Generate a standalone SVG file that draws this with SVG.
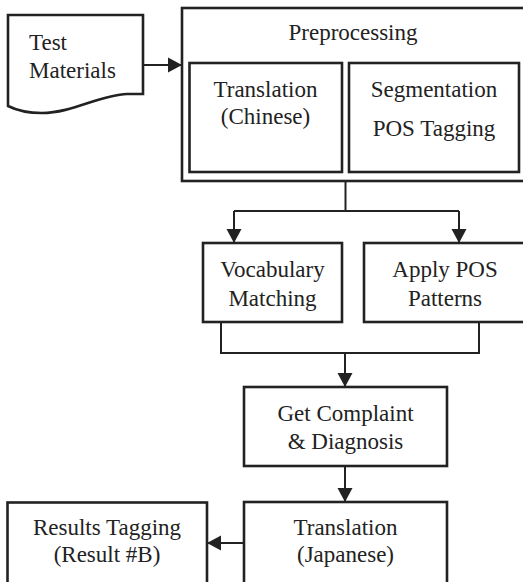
<svg xmlns="http://www.w3.org/2000/svg" width="523" height="582" viewBox="0 0 523 582">
<style>
.box{fill:#fff;stroke:#222;stroke-width:2.6}
.ln{fill:none;stroke:#222;stroke-width:2}
.t{font-family:'Liberation Serif','Times New Roman','DejaVu Serif',serif;font-size:23px;fill:#222;text-anchor:middle}
.s{text-anchor:start}
</style>
<defs>
<marker id="ah" markerUnits="userSpaceOnUse" markerWidth="16" markerHeight="16" viewBox="0 0 16 16" refX="15" refY="8" orient="auto">
<path d="M1,0.5 L15,8 L1,15.5 Z" fill="#222"/>
</marker>
</defs>
<rect width="523" height="582" fill="#fff"/>
<g id="connectors">
<line class="ln" x1="143" y1="65" x2="182" y2="65" marker-end="url(#ah)"/>
<polyline class="ln" points="345.5,181 345.5,211"/>
<polyline class="ln" points="234,211 459,211"/>
<line class="ln" x1="234" y1="211" x2="234" y2="243" marker-end="url(#ah)"/>
<line class="ln" x1="459" y1="211" x2="459" y2="243" marker-end="url(#ah)"/>
<polyline class="ln" points="221,322 221,353 479,353 479,322"/>
<line class="ln" x1="345" y1="353" x2="345" y2="387" marker-end="url(#ah)"/>
<line class="ln" x1="345" y1="466" x2="345" y2="502" marker-end="url(#ah)"/>
<line class="ln" x1="244" y1="543" x2="207" y2="543" marker-end="url(#ah)"/>
</g>
<g id="test-materials">
<path class="box" d="M8,15 H143 V94 H127 C100,95 72,113 42,113 C30,113 16,110 8,106 Z"/>
<text class="t s" x="29" y="50">Test</text>
<text class="t s" x="29" y="78">Materials</text>
</g>
<g id="preprocessing">
<rect class="box" x="182" y="8" width="350" height="173"/>
<text class="t" x="353" y="40">Preprocessing</text>
</g>
<g id="translation-chinese">
<rect class="box" x="189.5" y="63" width="152.5" height="109"/>
<text class="t" x="265.5" y="97">Translation</text>
<text class="t" x="265.5" y="124">(Chinese)</text>
</g>
<g id="segmentation">
<rect class="box" x="349" y="63" width="170" height="109"/>
<text class="t" x="434" y="97">Segmentation</text>
<text class="t" x="434" y="136">POS Tagging</text>
</g>
<g id="vocabulary-matching">
<rect class="box" x="203" y="243" width="139" height="79"/>
<text class="t" x="272.5" y="277">Vocabulary</text>
<text class="t" x="272.5" y="306">Matching</text>
</g>
<g id="apply-pos">
<rect class="box" x="364" y="243" width="170" height="79"/>
<text class="t" x="445" y="277">Apply POS</text>
<text class="t" x="445" y="306">Patterns</text>
</g>
<g id="get-complaint">
<rect class="box" x="244" y="387" width="203" height="79"/>
<text class="t" x="345.5" y="421">Get Complaint</text>
<text class="t" x="345.5" y="449">&amp; Diagnosis</text>
</g>
<g id="translation-japanese">
<rect class="box" x="244" y="502" width="203" height="90"/>
<text class="t" x="345.5" y="535">Translation</text>
<text class="t" x="345.5" y="562">(Japanese)</text>
</g>
<g id="results-tagging">
<rect class="box" x="7.5" y="502.5" width="199.5" height="90"/>
<text class="t" x="107" y="535">Results Tagging</text>
<text class="t" x="107" y="562">(Result #B)</text>
</g>
</svg>
